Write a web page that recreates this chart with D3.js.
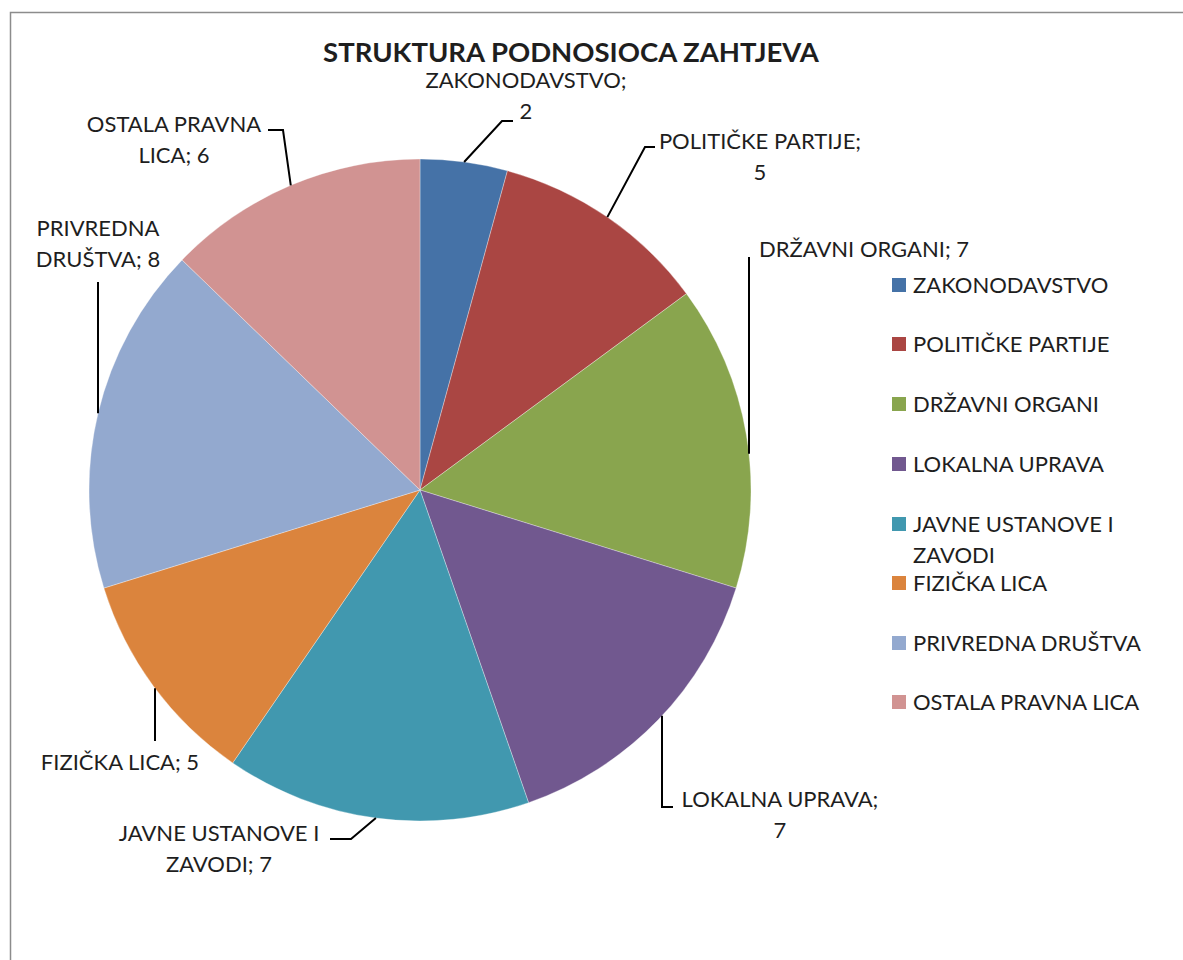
<!DOCTYPE html>
<html>
<head>
<meta charset="utf-8">
<script src="https://cdn.jsdelivr.net/npm/d3@7"></script>
<style>
  body { margin: 0; background: #fff; }
  text { font-family: Lato, "Open Sans", sans-serif; fill: #1e1e1e; }
</style>
</head>
<body>
<svg id="chart" width="1183" height="960"></svg>
<script>
'use strict';
// chart data
const categories = ['ZAKONODAVSTVO', 'POLITIČKE PARTIJE', 'DRŽAVNI ORGANI', 'LOKALNA UPRAVA',
  'JAVNE USTANOVE I ZAVODI', 'FIZIČKA LICA', 'PRIVREDNA DRUŠTVA', 'OSTALA PRAVNA LICA'];
const values = [2, 5, 7, 7, 7, 5, 8, 6];
const colors = ['#4572A7', '#AA4643', '#89A54E', '#71588F', '#4198AF', '#DB843D', '#93A9CF', '#D19392'];
const title = 'STRUKTURA PODNOSIOCA ZAHTJEVA';

// label text lines as excel wrapped them
const labelLines = [
  ['ZAKONODAVSTVO;', '2'],
  ['POLITIČKE PARTIJE;', '5'],
  ['DRŽAVNI ORGANI; 7'],
  ['LOKALNA UPRAVA;', '7'],
  ['JAVNE USTANOVE I', 'ZAVODI; 7'],
  ['FIZIČKA LICA; 5'],
  ['PRIVREDNA', 'DRUŠTVA; 8'],
  ['OSTALA PRAVNA', 'LICA; 6']
];
const legendLines = [['ZAKONODAVSTVO'], ['POLITIČKE PARTIJE'], ['DRŽAVNI ORGANI'], ['LOKALNA UPRAVA'],
  ['JAVNE USTANOVE I', 'ZAVODI'], ['FIZIČKA LICA'], ['PRIVREDNA DRUŠTVA'], ['OSTALA PRAVNA LICA']];

// label layout: text centre, first line centre y, leader elbow points, leader kind
const labelLayout = [
  {x: 526, y: 80, pts: [[513, 121], [502, 121]], kind: 'mid'},
  {x: 760, y: 141, pts: [[655, 147], [645, 147]], kind: 'mid'},
  {x: 864, y: 249, pts: [[749, 257]], kind: 'vert'},
  {x: 780, y: 799, pts: [[673, 807], [662, 807]], kind: 'vert'},
  {x: 219, y: 833, pts: [[330, 839], [351, 839]], kind: 'mid'},
  {x: 120, y: 762, pts: [[155, 741]], kind: 'vert'},
  {x: 98, y: 228, pts: [[98, 282]], kind: 'vert'},
  {x: 174, y: 124, pts: [[268, 130], [283, 130]], kind: 'mid'}
];

const width = 1183, height = 960;
const cx = 420, cy = 490, radius = 331;
const lineHeight = 31;

const svg = d3.select('#chart');

// outer frame
svg.append('rect')
  .attr('x', 10.5)
  .attr('y', 12.5)
  .attr('width', 1300)
  .attr('height', 1100)
  .attr('fill', '#fff')
  .attr('stroke', '#8c8c8c')
  .attr('stroke-width', 1.5);

svg.append('text')
  .attr('x', 571)
  .attr('y', 62)
  .attr('text-anchor', 'middle')
  .style('font-size', '27.5px')
  .style('font-weight', 'bold')
  .text(title);

const pie = d3.pie().sort(null).value(d => d);
const arcs = pie(values);
const arc = d3.arc().innerRadius(0).outerRadius(radius);

const pieGroup = svg.append('g')
  .attr('transform', `translate(${cx},${cy})`);

pieGroup.selectAll('path')
  .data(arcs)
  .enter()
  .append('path')
  .attr('d', arc)
  .attr('fill', (d, i) => colors[i])
  .attr('stroke', '#fff')
  .attr('stroke-opacity', 0.4)
  .attr('stroke-width', 0.8);

// leader lines
const leaderLine = d3.line();
arcs.forEach(function(a, i){
  const lay = labelLayout[i];
  const pts = lay.pts.slice();
  const last = pts[pts.length - 1];
  let end;
  if (lay.kind === 'vert') {
    const dx = last[0] - cx;
    const dy = Math.sqrt(radius * radius - dx * dx);
    end = [last[0], last[1] < cy ? cy - dy : cy + dy];
  } else {
    const mid = (a.startAngle + a.endAngle) / 2;
    end = [cx + Math.sin(mid) * radius, cy - Math.cos(mid) * radius];
  }
  pts.push(end);
  svg.append('path')
    .attr('d', leaderLine(pts))
    .attr('fill', 'none')
    .attr('stroke', '#000')
    .attr('stroke-width', 2);
});

// data labels
labelLines.forEach(function(lines, i){
  const lay = labelLayout[i];
  const t = svg.append('text')
    .attr('text-anchor', 'middle')
    .style('font-size', '22px');
  lines.forEach(function(l, j){
    t.append('tspan')
      .attr('x', lay.x)
      .attr('y', lay.y + j * lineHeight + 8)
      .text(l);
  });
});

// legend
const legendY = [285, 344, 404, 464, 524, 583, 643, 702];
const legend = svg.append('g');
legendLines.forEach(function(lines, i){
  legend.append('rect')
    .attr('x', 892)
    .attr('y', legendY[i] - 7)
    .attr('width', 14)
    .attr('height', 14)
    .attr('fill', colors[i]);
  const t = legend.append('text')
    .style('font-size', '22px');
  lines.forEach(function(l, j){
    t.append('tspan')
      .attr('x', 913)
      .attr('y', legendY[i] + j * lineHeight + 8)
      .text(l);
  });
});
</script>
</body>
</html>
